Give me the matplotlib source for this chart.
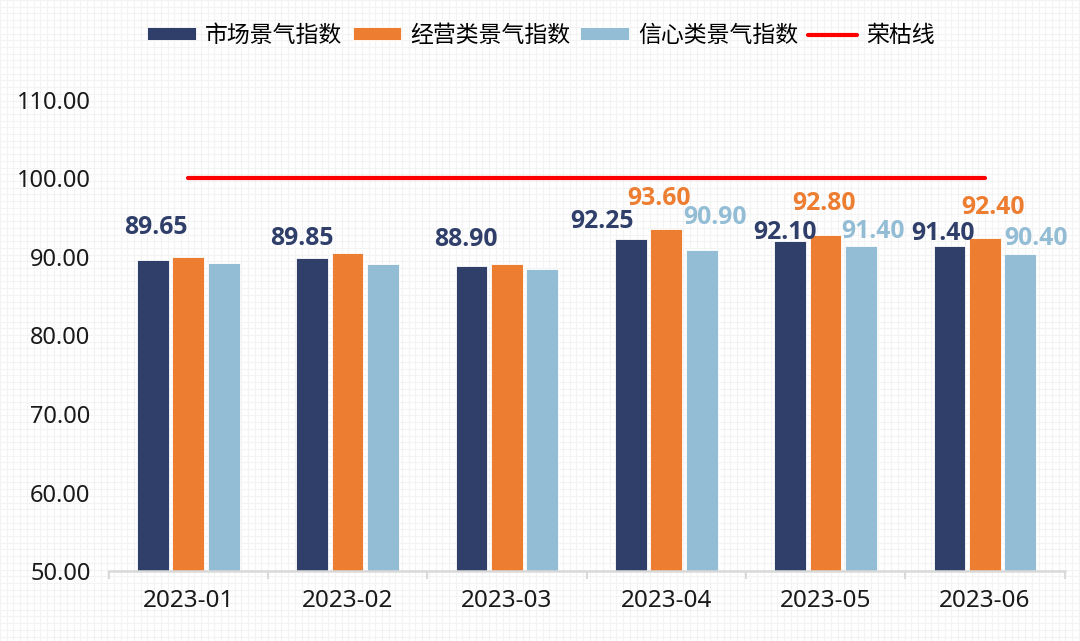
"""Grouped bar chart of business climate indices vs. the 100 boom-bust line."""

import matplotlib

matplotlib.use("Agg")
import matplotlib.pyplot as plt
import numpy as np

plt.rcParams["font.family"] = ["Noto Sans", "Noto Sans CJK SC", "DejaVu Sans"]

# Data
months = ["2023-01", "2023-02", "2023-03", "2023-04", "2023-05", "2023-06"]
market_index = [89.65, 89.85, 88.90, 92.25, 92.10, 91.40]
business_index = [90.00, 90.45, 89.10, 93.60, 92.80, 92.40]
confidence_index = [89.20, 89.10, 88.50, 90.90, 91.40, 90.40]
boom_bust_line = [100, 100, 100, 100, 100, 100]
series_names = ["市场景气指数", "经营类景气指数", "信心类景气指数", "荣枯线"]

# Which bars carry a value label, and where the label sits (pixel offset from bar top)
market_labelled = [True, True, True, True, True, True]
business_labelled = [False, False, False, True, True, True]
confidence_labelled = [False, False, False, True, True, True]
market_offsets = [(3, 26), (-10, 13), (-6, 20), (-29, 11), (-5, 2), (-7, 6)]
business_offsets = [(0, 0), (0, 0), (0, 0), (-7, 24), (-2, 25), (8, 24)]
confidence_offsets = [(0, 0), (0, 0), (0, 0), (13, 26), (12, 8), (16, 9)]

NAVY = "#2f3f69"
ORANGE = "#ed7d31"
LIGHT_BLUE = "#93bdd5"
RED = "#ff0000"
FONT_SIZE = 16.5

fig = plt.figure(figsize=(10.8, 6.41), dpi=100)

# Faint graph-paper background
bg = fig.add_axes([0, 0, 1, 1], zorder=-10)
bg.set_xlim(0, 1080)
bg.set_ylim(641, 0)
bg.vlines(np.arange(0, 1080, 6.7), 0, 641, color="#f3f3f3", linewidth=0.8)
bg.hlines(np.arange(0, 641, 6.7), 0, 1080, color="#f3f3f3", linewidth=0.8)
bg.axis("off")

ax = fig.add_axes([0.1005, 0.1092, 0.8852, 0.7348])
ax.patch.set_alpha(0)

x = np.arange(len(months))
width = 0.2
step = 0.222

bar_groups = []
for shift, values, color, name in [
    (-step, market_index, NAVY, series_names[0]),
    (0, business_index, ORANGE, series_names[1]),
    (step, confidence_index, LIGHT_BLUE, series_names[2]),
]:
    bars = ax.bar(
        x + shift, values, width, color=color, edgecolor="white", linewidth=0.6, label=name
    )
    bar_groups.append(bars)

(line,) = ax.plot(
    x, boom_bust_line, color=RED, linewidth=3, solid_capstyle="round", label=series_names[3]
)

# Value labels
for bars, values, labelled, offsets, color in [
    (bar_groups[0], market_index, market_labelled, market_offsets, NAVY),
    (bar_groups[1], business_index, business_labelled, business_offsets, ORANGE),
    (bar_groups[2], confidence_index, confidence_labelled, confidence_offsets, LIGHT_BLUE),
]:
    for bar, value, show, (dx, dy) in zip(bars, values, labelled, offsets):
        if not show:
            continue
        ax.annotate(
            f"{value:.2f}",
            (bar.get_x() + bar.get_width() / 2, value),
            xytext=(dx, dy),
            textcoords="offset pixels",
            ha="center",
            va="baseline",
            fontsize=17.8,
            fontweight="bold",
            family=["Open Sans", "DejaVu Sans"],
            color=color,
        )

# Axes styling
ax.set_xlim(-0.5, len(months) - 0.5)
ax.set_ylim(50, 110)
ax.set_yticks(np.arange(50, 111, 10))
ax.yaxis.set_major_formatter(plt.FormatStrFormatter("%.2f"))
ax.set_xticks(x)
ax.set_xticklabels(months)
ax.set_xticks(np.arange(-0.5, len(months)), minor=True)
ax.tick_params(axis="y", length=0, pad=13, labelsize=FONT_SIZE + 0.5, labelcolor="#1a1a1a")
ax.tick_params(axis="x", which="major", length=0, pad=13, labelsize=17.5, labelcolor="#1a1a1a")
ax.tick_params(axis="x", which="minor", length=6, width=1.5, color="#d9d9d9")
for side in ("left", "right", "top"):
    ax.spines[side].set_visible(False)
ax.spines["bottom"].set_color("#d9d9d9")
ax.spines["bottom"].set_linewidth(1.8)

fig.legend(
    handles=[*bar_groups, line],
    labels=series_names,
    loc="center",
    bbox_to_anchor=(541 / 1080, 1 - 36 / 641),
    ncol=4,
    frameon=False,
    fontsize=FONT_SIZE,
    handlelength=2.1,
    handleheight=0.51,
    handletextpad=0.41,
    columnspacing=0.45,
    borderaxespad=0,
)

fig.savefig("out.png", dpi=100)
